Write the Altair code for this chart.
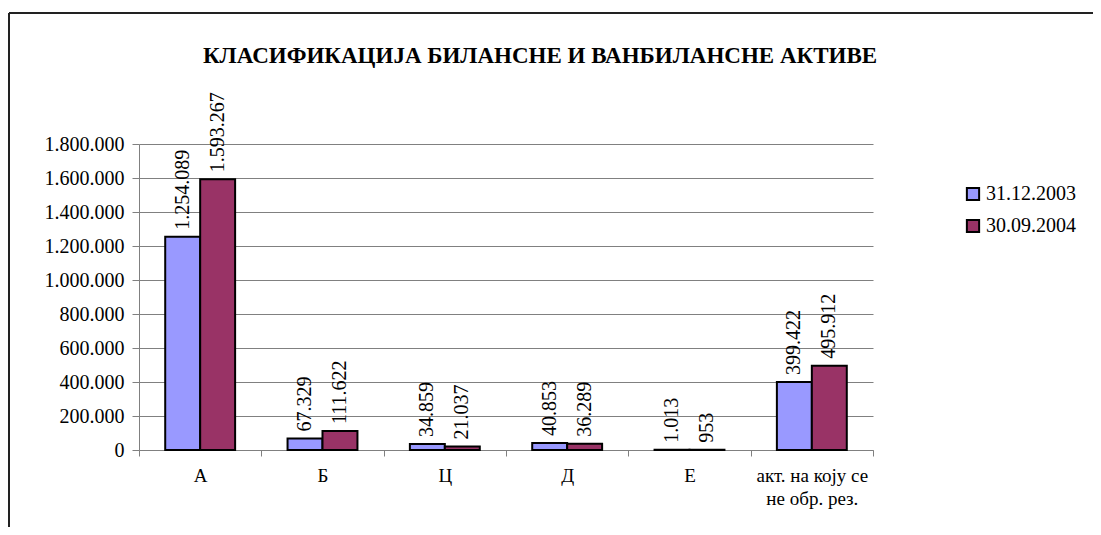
import altair as alt
import pandas as pd

categories = ["А", "Б", "Ц", "Д", "Е", "акт. на коју се|не обр. рез."]
series = ["31.12.2003", "30.09.2004"]
values_2003 = [1254089, 67329, 34859, 40853, 1013, 399422]
values_2004 = [1593267, 111622, 21037, 36289, 953, 495912]
y_ticks = [0, 200000, 400000, 600000, 800000, 1000000, 1200000, 1400000, 1600000, 1800000]
colors = ["#9999FF", "#993366"]
title_text = "КЛАСИФИКАЦИЈА БИЛАНСНЕ И ВАНБИЛАНСНЕ АКТИВЕ"

rows = []
for c, a, b in zip(categories, values_2003, values_2004):
    rows.append({"cat": c, "series": series[0], "value": a})
    rows.append({"cat": c, "series": series[1], "value": b})
df = pd.DataFrame(rows)

FONT = "Liberation Serif"
W, H = 734, 306
PL, PT = 131, 136
TOTW, TOTH = 1085, 519

x_enc = alt.X("cat:N", sort=categories, title=None,
              scale=alt.Scale(paddingInner=0, paddingOuter=0),
              axis=alt.Axis(labelAngle=0, tickBand="extent", labelExpr="split(datum.label, '|')",
                            labelFont=FONT, labelFontSize=19, labelColor="black",
                            labelPadding=10, labelLineHeight=23,
                            domainColor="#808080", tickColor="#808080", tickSize=6,
                            grid=False))
xo_enc = alt.XOffset("series:N", sort=series,
                     scale=alt.Scale(paddingInner=0, paddingOuter=0.75))
y_enc = alt.Y("value:Q", title=None,
              scale=alt.Scale(domain=[0, 1800000], nice=False),
              axis=alt.Axis(values=y_ticks, format=",d", labelFont=FONT, labelFontSize=20,
                            labelColor="black", labelPadding=8, labelOverlap=False,
                            labelFlush=False,
                            domainColor="#808080", tickColor="#808080", tickSize=7,
                            gridColor="#808080", gridWidth=1))

base = alt.Chart(df)

bars = base.mark_bar(stroke="black", strokeWidth=2).encode(
    x=x_enc,
    xOffset=xo_enc,
    y=y_enc,
    color=alt.Color("series:N", sort=series,
                    scale=alt.Scale(domain=series, range=colors),
                    legend=alt.Legend(title=None, orient="none", legendX=824, legendY=40,
                                      symbolType="square", symbolSize=150,
                                      symbolStrokeColor="black", symbolStrokeWidth=2,
                                      labelFont=FONT, labelFontSize=20, labelColor="black",
                                      labelOffset=3, rowPadding=10)),
)

labels = base.mark_text(angle=270, align="left", baseline="middle", dx=7,
                        font=FONT, fontSize=20, color="black").encode(
    x=x_enc,
    xOffset=xo_enc,
    y=y_enc,
    text=alt.Text("value:Q", format=",d"),
)

frame_df = pd.DataFrame({"k": [0]})
top_line = alt.Chart(frame_df).mark_rule(color="#222222", strokeWidth=2).encode(
    x=alt.value(-130), x2=alt.value(TOTW - PL), y=alt.value(-131))
left_line = alt.Chart(frame_df).mark_rule(color="#222222", strokeWidth=2).encode(
    x=alt.value(-130), y=alt.value(-131), y2=alt.value(TOTH - PT))
title_mark = alt.Chart(frame_df).mark_text(
    font=FONT, fontSize=23, fontWeight="bold", color="black",
    align="center", baseline="middle").encode(
    x=alt.value(540 - 139), y=alt.value(56 - 144), text=alt.value(title_text))

chart = alt.layer(bars, labels, top_line, left_line, title_mark).properties(
    width=W, height=H,
    autosize=alt.AutoSizeParams(type="none"),
    padding={"left": PL, "top": PT, "right": TOTW - PL - W, "bottom": TOTH - PT - H},
).configure(
    font=FONT,
    locale={"number": {"decimal": ",", "thousands": ".", "grouping": [3], "currency": ["", ""]}}
).configure_view(stroke=None)

chart.save("out.html", embed_options={"renderer": "svg", "actions": False})
